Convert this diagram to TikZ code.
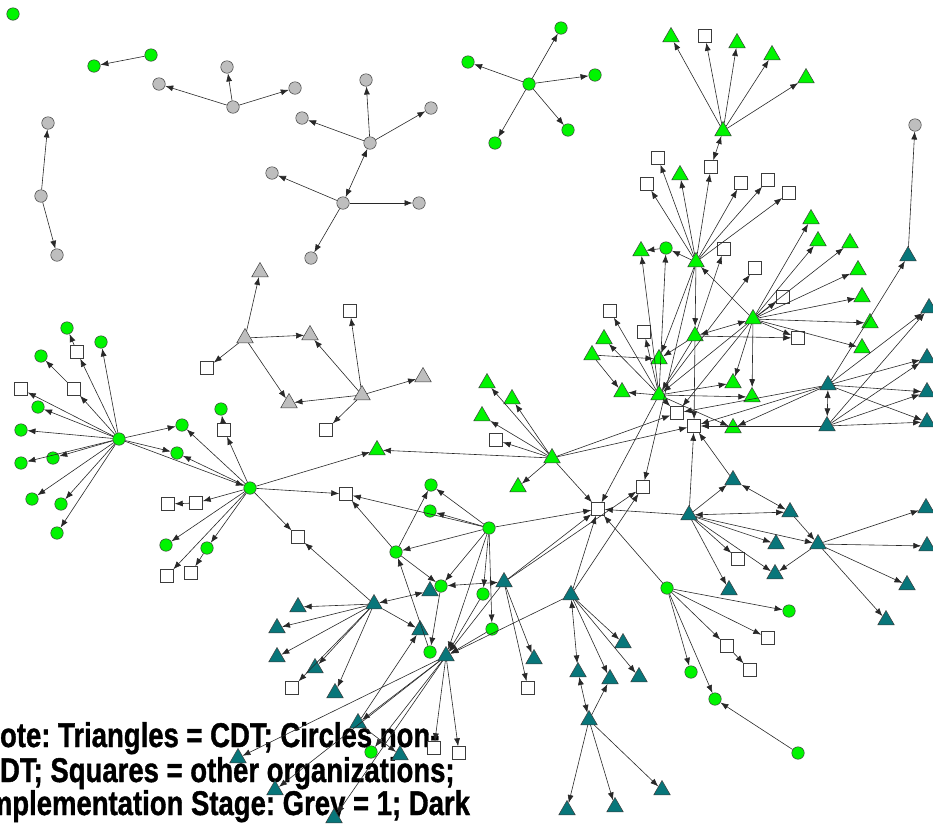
\documentclass[tikz,border=0pt]{standalone}
\usepackage{fontspec}
\setmainfont{Liberation Sans}
\newfontfamily\notefamily{Liberation Sans Bold}[FakeBold=1.2]
\usetikzlibrary{shapes.geometric,arrows.meta}

\definecolor{lime}{RGB}{0,245,0}
\definecolor{stagegrey}{RGB}{190,190,190}
\definecolor{stageteal}{RGB}{8,118,122}
\definecolor{edgecol}{RGB}{40,40,40}
\definecolor{rimcol}{RGB}{60,60,60}

\tikzset{
  base/.style={draw=rimcol, line width=0.5pt, inner sep=0pt},
  gc/.style={base, circle, fill=lime, minimum size=12.5pt},
  yc/.style={base, circle, fill=stagegrey, minimum size=12.5pt},
  sq/.style={base, rectangle, fill=white, minimum size=13pt},
  tri/.style={base, regular polygon, regular polygon sides=3, minimum size=19pt},
  gt/.style={tri, fill=lime},
  yt/.style={tri, fill=stagegrey},
  tt/.style={tri, fill=stageteal},
  edge/.style={draw=edgecol, line width=0.6pt, -{Latex[length=8pt,width=6pt]}},
  both/.style={draw=edgecol, line width=0.6pt, {Latex[length=8pt,width=6pt]}-{Latex[length=8pt,width=6pt]}},
  notefont/.style={font=\notefamily\fontsize{27.5}{34}\selectfont\frenchspacing, text=black, inner sep=0pt, anchor=base west}
}

\begin{document}
\begin{tikzpicture}[x=1pt,y=-1pt]
\useasboundingbox (0,0) rectangle (933,823);

% legend text (drawn first, the network lies over it)
\node[notefont] (note1) at (-20,747) {\scalebox{1}[1.25]{Note: Triangles = CDT; Circles non-}};
\node[notefont] (note2) at (-20,782) {\scalebox{1}[1.25]{CDT; Squares = other organizations;}};
\node[notefont] (note3) at (-20,815) {\scalebox{1}[1.25]{Implementation Stage: Grey = 1; Dark}};

% green circles: non-CDT, later stage
\foreach \n/\x/\y in {c01/13/14, c02/151/55, c03/94/66, c10/529/84, c11/561/28,
  c12/468/62, c13/595/75, c14/568/130, c15/495/143, H1/119/439, c20/67/328,
  c21/101/342, c22/41/356, c23/38/407, c24/21/430, c25/53/458, c26/21/463,
  c27/32/499, c28/61/504, c29/57/533, c30/182/425, c31/177/453, H2/250/488,
  c32/221/409, c33/166/545, c34/207/548, H3/489/528, c35/431/485, c36/430/511,
  c37/396/552, c38/441/586, c39/483/594, c40/492/629, c41/430/652, c42/371/752,
  c43/666/248, c44/667/588, c45/789/611, c46/691/672, c47/715/699, c48/798/753}
  \coordinate (\n) at (\x,\y);

% grey circles: non-CDT, stage 1
\foreach \n/\x/\y in {y01/233/107, y02/227/67, y03/159/84, y04/295/88, y05/370/143,
  y06/366/80, y07/302/118, y08/431/108, y09/343/203, y10/272/173, y11/419/203,
  y12/311/258, y13/41/196, y14/48/123, y15/57/255, y16/915/125}
  \coordinate (\n) at (\x,\y);

% squares: other organizations
\foreach \n/\x/\y in {s01/77/352, s02/74/389, s03/21/389, s04/224/430, s05/196/503,
  s06/168/504, s07/191/573, s08/167/576, s09/298/537, s10/346/494, s11/292/688,
  s12/528/688, s13/434/748, s14/459/753, S1/598/509, s15/643/487, S2/694/426,
  S3/677/413, s16/496/440, s17/610/311, s18/644/332, s19/658/158, s20/647/184,
  s21/711/167, s22/741/183, s23/768/180, s24/789/193, s25/724/249, s26/755/268,
  s27/783/297, s28/798/338, s30/738/559, s31/727/646, s32/768/638, s33/750/670,
  s34/705/36, s40/350/311, s41/207/368, s42/326/430}
  \coordinate (\n) at (\x,\y);

% green triangles
\foreach \n/\x/\y in {T1/723/131, t01/671/37, t02/737/43, t03/772/55, t04/806/78,
  T2/696/262, t05/680/175, t06/641/251, T3/695/336, T4/753/319, T5/659/395,
  t07/659/359, t08/622/392, t09/592/355, t10/604/339, t11/733/383, t12/752/397,
  t13/733/428, t14/811/219, t15/818/241, t16/850/243, t17/858/270, t18/862/297,
  t19/870/323, t20/862/348, GH/552/458, t21/487/383, t22/512/399, t23/482/416,
  t24/518/487, t25/377/450}
  \coordinate (\n) at (\x,\y);

% grey triangles
\foreach \n/\x/\y in {yt1/260/272, yt2/245/338, yt3/310/335, yt4/289/403,
  yt5/362/395, yt6/423/377}
  \coordinate (\n) at (\x,\y);

% teal triangles
\foreach \n/\x/\y in {TR1/828/385, TR2/827/426, e01/908/256, e02/929/308,
  e03/927/358, e04/927/392, e05/927/422, TB1/689/515, e06/733/480, e07/790/512,
  TB2/818/544, e08/776/544, e09/775/574, e10/729/590, e11/926/508, e12/927/546,
  e13/907/585, e14/886/620, e15/571/595, e16/578/672, e17/589/720, e18/610/679,
  e19/623/643, e20/639/677, e21/567/810, e22/615/807, e23/662/790, L/374/604,
  e24/298/607, e25/277/628, e26/277/657, e27/315/668, e28/335/693, e29/430/591,
  e30/504/582, e31/420/630, e32/446/656, e33/534/659, e34/358/723, e35/400/755,
  e36/238/758, e37/275/790, e38/334/818}
  \coordinate (\n) at (\x,\y);

% the shapes themselves, placed on the coordinates above
\foreach \n in {c01,c02,c03,c10,c11,c12,c13,c14,c15,H1,c20,c21,c22,c23,c24,c25,
  c26,c27,c28,c29,c30,c31,H2,c32,c33,c34,H3,c35,c36,c37,c38,c39,c40,c41,c42,
  c43,c44,c45,c46,c47,c48}
  \node[gc] (n\n) at (\n) {};
\foreach \n in {y01,y02,y03,y04,y05,y06,y07,y08,y09,y10,y11,y12,y13,y14,y15,y16}
  \node[yc] (n\n) at (\n) {};
\foreach \n in {s01,s02,s03,s04,s05,s06,s07,s08,s09,s10,s11,s12,s13,s14,S1,s15,
  S2,S3,s16,s17,s18,s19,s20,s21,s22,s23,s24,s25,s26,s27,s28,s30,s31,s32,s33,
  s34,s40,s41,s42}
  \node[sq] (n\n) at (\n) {};
\foreach \n in {T1,t01,t02,t03,t04,T2,t05,t06,T3,T4,T5,t07,t08,t09,t10,t11,t12,
  t13,t14,t15,t16,t17,t18,t19,t20,GH,t21,t22,t23,t24,t25}
  \node[gt] (n\n) at (\n) {};
\foreach \n in {yt1,yt2,yt3,yt4,yt5,yt6}
  \node[yt] (n\n) at (\n) {};
\foreach \n in {TR1,TR2,e01,e02,e03,e04,e05,TB1,e06,e07,TB2,e08,e09,e10,e11,
  e12,e13,e14,e15,e16,e17,e18,e19,e20,e21,e22,e23,L,e24,e25,e26,e27,e28,e29,
  e30,e31,e32,e33,e34,e35,e36,e37,e38}
  \node[tt] (n\n) at (\n) {};

% directed ties
\foreach \a/\b in {c02/c03,
  y01/y02, y01/y03, y01/y04, y05/y06, y05/y07, y05/y08, y09/y10, y09/y11, y09/y12,
  y13/y14, y13/y15, e01/y16,
  c10/c11, c10/c12, c10/c13, c10/c14, c10/c15,
  yt2/yt1, yt2/yt3, yt2/s41, yt2/yt4, yt5/yt4, yt5/yt3, yt5/s40, yt5/yt6, yt5/s42,
  H1/s01, s01/c20, H1/c21, H1/s02, s02/c22, H1/s03, H1/c23, H1/c24, H1/c25,
  H1/c26, H1/c27, H1/c28, H1/c29, H1/c30, H1/c31, H1/H2,
  H2/c30, H2/c31, H2/s04, s04/c32, H2/s05, s05/s06, H2/c33, H2/c34, c34/s07,
  H2/s08, H2/s09, H2/s10, H2/t25,
  H3/c35, H3/c36, H3/c37, H3/s10, c37/s10, c37/c35, c37/c38, c41/c37, H3/c38,
  H3/c39, H3/c40, H3/e32, H3/S1,
  L/e24, L/e25, L/e26, L/e27, L/e28, L/s11, L/s09, L/e31,
  c38/c41, e30/e33, e30/s12, e30/e32, e30/S1, e30/s15, c40/e32, e15/e32, c39/e32,
  e32/s13, e32/s14, e32/e36, e32/e37, e32/e38, e32/e34, e32/c42, e34/e35, e34/e31,
  e15/S1, e15/s15, e17/e21, e17/e22, e17/e23, e17/e18, e15/e18, e15/e19, e15/e20,
  c44/c45, c44/s32, c44/s31, c44/c46, c44/c47, c44/S1, s31/s33, c48/c47,
  TB1/S1, TB1/S2, TB1/e06, TB1/TB2, TB1/e08, TB1/s30, TB1/e09, TB1/e10, e06/S2,
  e07/TB2, TB2/e11, TB2/e12, TB2/e13, TB2/e14, TB2/e09,
  TR1/e01, TR1/e02, TR1/e03, TR1/e04, TR1/e05, TR1/S2, TR1/S3, TR1/t13,
  TR2/e02, TR2/e03, TR2/e04, TR2/e05, TR2/S2,
  T1/t01, T1/s34, T1/t02, T1/t03, T1/t04, T2/s21,
  T2/s19, T2/s20, T2/t05, T2/s22, T2/s23, T2/s24, T2/c43, T2/T3, T2/t07, T2/s15,
  c43/t06,
  T4/T2, T4/t14, T4/t15, T4/t16, T4/t17, T4/t18, T4/t19, T4/t20, T4/s27, T4/s28,
  T4/t11, T4/t12, T4/T5, T4/S3,
  T3/s25, T3/s28, T3/t07, T3/T5, T3/S2,
  T5/t10, T5/t08, T5/s17, T5/s18, T5/t06, T5/c43, T5/t11, T5/t12, T5/S3, T5/S1,
  T5/t13, T5/s26, t09/t08, t09/t07,
  GH/t21, GH/t22, GH/t23, GH/s16, GH/t24, GH/t25, GH/S1, GH/S2, GH/S3}
  \path[edge] (n\a) -- (n\b);
% reciprocal ties
\foreach \a/\b in {y05/y09, L/e29, c38/e30, T1/s21, e15/e16, e16/e17, TR1/TR2,
  e06/e07, TB1/e07, T4/T3}
  \path[both] (n\a) -- (n\b);
\end{tikzpicture}
\end{document}
